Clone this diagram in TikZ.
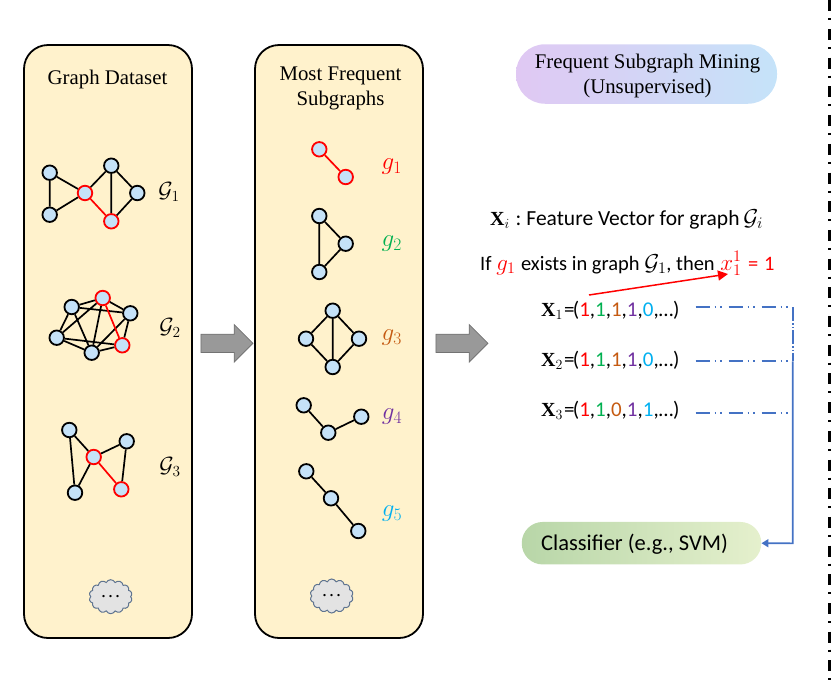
\documentclass[tikz,border=0pt]{standalone}
\usepackage{fix-cm}
\usepackage{fontspec}
\usetikzlibrary{shapes.symbols,shapes.arrows,arrows.meta}
\setmainfont{Liberation Serif}
\newfontfamily\calibrif{Carlito}
\definecolor{panel}{HTML}{FFF2CC}
\definecolor{nodeblue}{HTML}{C5E2F8}
\definecolor{gred}{HTML}{FF0000}
\definecolor{ggreen}{HTML}{00B050}
\definecolor{gorange}{HTML}{C55A11}
\definecolor{gpurple}{HTML}{7030A0}
\definecolor{gcyan}{HTML}{00B0F0}
\definecolor{lineblue}{HTML}{4472C4}
\definecolor{cloudline}{HTML}{5F7490}
\newcommand{\mm}[1]{{\fontsize{23}{23}\selectfont$#1$}}
\newcommand{\mx}[1]{{\fontsize{20}{20}\selectfont$#1$}}
\tikzset{
  x=1pt,y=-1pt,
  panelbox/.style={draw=black,line width=1.8pt,fill=panel,rounded corners=24pt},
  vb/.style={circle,draw=black,line width=1.8pt,fill=nodeblue,minimum size=14.5pt,inner sep=0pt},
  vr/.style={vb,draw=gred},
  ed/.style={draw=black,line width=1.7pt},
  er/.style={draw=gred,line width=1.7pt},
  gcal/.style={font=\fontsize{22}{22}\selectfont},
  glabel/.style={font=\fontsize{25}{25}\selectfont},
  blocka/.style={single arrow,draw=black!55,line width=.8pt,fill=black!40,minimum height=52pt,single arrow head extend=9.6pt,single arrow tip angle=90,inner sep=0pt,anchor=tail},
  cloudy/.style={cloud,cloud puffs=14,cloud puff arc=130,aspect=1.25,draw=cloudline,line width=1pt,fill=black!11,minimum width=43pt,minimum height=34pt,inner sep=0pt,font=\fontsize{14}{14}\selectfont\bfseries},
  txt/.style={font=\fontsize{20.8}{25}\selectfont,align=center,inner sep=0pt},
  sans/.style={font=\calibrif\fontsize{20.5}{22}\selectfont,anchor=base west,inner sep=0pt},
  vecs/.style={sans,font=\calibrif\fontsize{21}{22}\selectfont},
  blued/.style={draw=lineblue,line width=1.7pt,dash pattern=on 14pt off 5pt on 1.5pt off 4pt on 1.5pt off 7pt},
  bluel/.style={draw=lineblue,line width=1.6pt},
}
\begin{document}
\begin{tikzpicture}
\useasboundingbox (0,0) rectangle (831,681);
% panels
\draw[panelbox] (24,45) rectangle (192,638);
\draw[panelbox] (255,45) rectangle (423,638);
\node[txt,anchor=base] (t1) at (107.5,84) {Graph Dataset};
\node[txt,anchor=base] (t2) at (340.5,105) {Most Frequent\\Subgraphs};
% G1
\node[vb] (a1) at (49.7,172.7) {};
\node[vb] (a2) at (49.7,214.7) {};
\node[vr] (a3) at (85,193) {};
\node[vb] (a4) at (111.3,165.7) {};
\node[vb] (a5) at (137.3,193) {};
\node[vr] (a6) at (111.3,221.3) {};
\draw[ed] (a1)--(a2) (a1)--(a3) (a2)--(a3) (a3)--(a4) (a4)--(a5) (a4)--(a6) (a5)--(a6);
\draw[er] (a3)--(a6);
\node[gcal] (la) at (169,192) {$\mathcal{G}_1$};
% G2
\node[vb] (b1) at (71.7,307) {};
\node[vr] (b2) at (102.7,298) {};
\node[vb] (b3) at (130.3,313.3) {};
\node[vr] (b4) at (122.3,345.3) {};
\node[vb] (b5) at (91.7,352.7) {};
\node[vb] (b6) at (56.7,337.7) {};
\draw[ed] (b1)--(b2) (b2)--(b3) (b1)--(b3) (b3)--(b4) (b4)--(b5) (b5)--(b6) (b6)--(b1) (b1)--(b5) (b6)--(b2) (b2)--(b5) (b6)--(b4) (b5)--(b3);
\draw[er] (b2)--(b4);
\node[gcal] (lb) at (170,328) {$\mathcal{G}_2$};
% G3
\node[vb] (c1) at (69.3,430) {};
\node[vb] (c2) at (126.7,441.3) {};
\node[vr] (c3) at (93.7,457) {};
\node[vb] (c4) at (75,492.7) {};
\node[vr] (c5) at (121.3,489.3) {};
\draw[ed] (c1)--(c3) (c1)--(c4) (c3)--(c4) (c3)--(c2) (c2)--(c5);
\draw[er] (c3)--(c5);
\node[gcal] (lc) at (170,467) {$\mathcal{G}_3$};
\node[cloudy] (cl1) at (110.7,596.7) {.\hspace{3.5pt}.\hspace{3.5pt}.};
% g1
\node[vr] (d1) at (319.3,149.3) {};
\node[vr] (d2) at (345.7,177) {};
\draw[er] (d1)--(d2);
\node[glabel,text=gred] (ld) at (391.7,167) {$g_1$};
% g2
\node[vb] (e1) at (319.3,216) {};
\node[vb] (e2) at (345.7,243.7) {};
\node[vb] (e3) at (319.3,272) {};
\draw[ed] (e1)--(e2) (e2)--(e3) (e1)--(e3);
\node[glabel,text=ggreen] (le) at (391.7,244) {$g_2$};
% g3
\node[vb] (f1) at (332.7,310.7) {};
\node[vb] (f2) at (306,338.7) {};
\node[vb] (f3) at (359,338.7) {};
\node[vb] (f4) at (332.7,367) {};
\draw[ed] (f1)--(f2) (f1)--(f3) (f1)--(f4) (f2)--(f4) (f3)--(f4);
\node[glabel,text=gorange] (lf) at (391.7,337.3) {$g_3$};
% g4
\node[vb] (h1) at (303.7,405.3) {};
\node[vb] (h2) at (328.3,432.7) {};
\node[vb] (h3) at (361.3,416.7) {};
\draw[ed] (h1)--(h2) (h2)--(h3);
\node[glabel,text=gpurple] (lh) at (392,416.7) {$g_4$};
% g5
\node[vb] (i1) at (306.3,471.3) {};
\node[vb] (i2) at (331,498.3) {};
\node[vb] (i3) at (358.3,531) {};
\draw[ed] (i1)--(i2) (i2)--(i3);
\node[glabel,text=gcyan] (li) at (392,513.3) {$g_5$};
\node[cloudy] (cl2) at (331.7,596) {.\hspace{3.5pt}.\hspace{3.5pt}.};
% block arrows
\node[blocka] (ar1) at (200.5,343.3) {\rule{0pt}{17.5pt}};
\node[blocka] (ar2) at (435.5,343.3) {\rule{0pt}{17.5pt}};
% pills
\node[rounded corners=29pt,minimum width=261pt,minimum height=59.5pt,shade,left color={rgb,255:red,224;green,200;blue,243},right color={rgb,255:red,197;green,227;blue,249}] (p1) at (646.5,74) {};
\node[txt] (p1t) at (647.5,75.5) {Frequent Subgraph Mining\\(Unsupervised)};
\node[rounded corners=21pt,minimum width=239.5pt,minimum height=42.5pt,inner sep=0pt,shade,left color={rgb,255:red,184;green,214;blue,168},right color={rgb,255:red,229;green,240;blue,205}] (p2) at (641.5,543.2) {};
\node[sans,font=\calibrif\fontsize{22.5}{24}\selectfont] (p2t) at (541,550) {Classifier (e.g., SVM)};
% text
\node[sans,font=\calibrif\fontsize{21.5}{22}\selectfont] (x0) at (490,225) {\mx{\mathbf{X}_i}\hspace{1pt} :\hspace{-1.5pt} Feature Vector for graph\hspace{-1pt} \mm{\mathcal{G}_i}};
\node[sans] (x00) at (480,270) {If {\color{gred}\mm{g_1}}\hspace{1pt} exists in graph \mm{\mathcal{G}_1}, then\hspace{1pt} {\color{gred}\mm{x_1^1}\hspace{2pt} =\hspace{1pt} 1}};
\newcommand{\vv}[6]{\mx{\mathbf{X}_{#1}}\hspace{1pt}=\hspace{-1.5pt}({\color{gred}#2},{\color{ggreen}#3},{\color{gorange}#4},{\color{gpurple}#5},{\color{gcyan}#6},…)}
\node[vecs] (x1) at (541,316.5) {\vv{1}{1}{1}{1}{1}{0}};
\node[vecs] (x2) at (541,366.5) {\vv{2}{1}{1}{1}{1}{0}};
\node[vecs] (x3) at (541,416.5) {\vv{3}{1}{1}{0}{1}{1}};
% red arrow
\coordinate (ra) at (589,295);
\coordinate (rb) at (728,274);
\draw[gred,line width=1.5pt,-{Triangle[length=10pt,width=10pt]}] (ra)--(rb);
% blue connectors
\coordinate (u1) at (695.7,307.3);
\coordinate (u2) at (695.7,361.3);
\coordinate (u3) at (695.7,413.3);
\coordinate (v1) at (792.7,307.3);
\coordinate (v2) at (792.7,361.3);
\coordinate (v3) at (792.7,413.3);
\coordinate (v4) at (792.7,543.3);
\draw[blued] (u1)--(v1);
\draw[blued] (u2)--(v2);
\draw[blued] (u3)--(v3);
\draw[bluel,dash pattern=on 14pt off 2pt on 1.5pt off 2pt on 1.5pt off 2pt] (v1)--(v2);
\draw[bluel,-{Triangle[length=7pt,width=8pt]}] (v2)--(v4)--(p2.east);
% right border
\coordinate (w1) at (829.5,0.3);
\coordinate (w2) at (829.5,681);
\draw[black,line width=2.5pt,dash pattern=on 11pt off 7pt on 2pt off 8.7pt] (w1)--(w2);
\end{tikzpicture}
\end{document}
